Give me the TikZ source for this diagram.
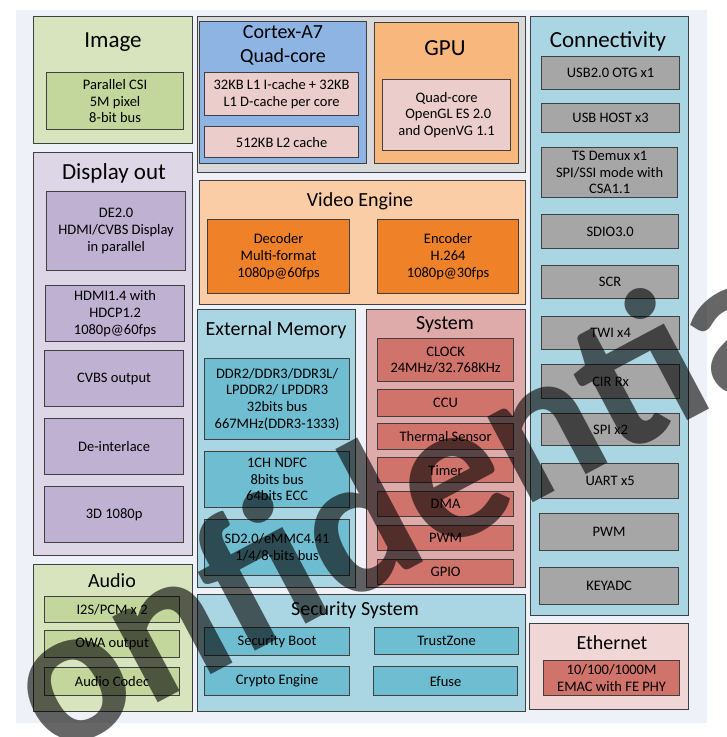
\documentclass[tikz,border=0pt]{standalone}
\usepackage{fontspec}
\setmainfont{Carlito}
\usepackage{xcolor}
\usepackage{tikz}
\usetikzlibrary{positioning}
\definecolor{pagebg}{RGB}{238,241,247}
\definecolor{edge}{RGB}{64,64,64}
\definecolor{imgbg}{RGB}{215,228,189}
\definecolor{imgin}{RGB}{195,214,155}
\definecolor{dispbg}{RGB}{221,214,231}
\definecolor{dispin}{RGB}{191,177,210}
\definecolor{cpubg}{RGB}{217,217,217}
\definecolor{cpuc}{RGB}{141,180,226}
\definecolor{cachec}{RGB}{235,205,203}
\definecolor{gpuc}{RGB}{247,183,125}
\definecolor{vidbg}{RGB}{250,205,166}
\definecolor{vidin}{RGB}{239,130,40}
\definecolor{blubg}{RGB}{170,214,227}
\definecolor{bluin}{RGB}{110,189,208}
\definecolor{sysbg}{RGB}{222,170,170}
\definecolor{sysin}{RGB}{207,115,107}
\definecolor{gryin}{RGB}{166,166,166}
\definecolor{ethbg}{RGB}{240,215,214}
\newcommand{\bigttl}{\fontsize{23}{27}\selectfont}
\newcommand{\midttl}{\fontsize{20}{24}\selectfont}
\newcommand{\itemtxt}{\fontsize{14.5}{16.7}\selectfont}

\begin{document}
\begin{tikzpicture}[x=1pt, y=-1pt,
  sz/.style 2 args={minimum width=#1, minimum height=#2},
  grp/.style={draw=edge, line width=0.9pt, fill=#1, anchor=north west, inner sep=0pt},
  blk/.style={draw=edge, line width=1.2pt, fill=#1, anchor=north west, inner sep=1pt,
    align=center, font=\itemtxt},
  ttl/.style={anchor=base, font=\bigttl},
  mttl/.style={anchor=base, font=\midttl},
  wm/.style={text=black, opacity=0.6, font=\bfseries\fontsize{200}{200}\selectfont}]
\useasboundingbox (0,0) rectangle (727,737);
\fill[pagebg] (16,10) rectangle (707,723);

% image
\node[grp=imgbg, sz={159}{127}] (image) at (33,16) {};
\node[ttl] (imaget) at (113,47) {Image};
\node[blk=imgin, sz={137}{57}] (csi) at (46,72) {Parallel CSI\\5M pixel\\8-bit bus};

% cpu + gpu
\node[grp=cpubg, sz={328}{156}] (core) at (197,16) {};
\node[grp=cpuc, sz={167}{142}] (cpu) at (199,21) {};
\node[mttl] (cput) at (283,38) {Cortex-A7};
\node[mttl] (cput2) at (283,62) {Quad-core};
\node[blk=cachec, sz={154}{43}] (l1) at (204,72) {32KB L1 I-cache + 32KB\\L1 D-cache per core};
\node[blk=cachec, sz={154}{31}] (l2) at (204,126) {512KB L2 cache};
\node[grp=gpuc, sz={144}{141}] (gpu) at (374,22) {};
\node[ttl] (gput) at (445,55) {GPU};
\node[blk=cachec, sz={128}{71}] (gpuin) at (382,79) {Quad-core\\\ OpenGL ES 2.0\\and OpenVG 1.1};

% display out
\node[grp=dispbg, sz={159}{403}] (disp) at (33,152) {};
\node[ttl] (dispt) at (114,179) {Display out};
\node[blk=dispin, sz={139}{79}] (de) at (46,191) {DE2.0\\HDMI/CVBS Display\\in parallel};
\node[blk=dispin, sz={139}{56}] (hdmi) at (45,285) {HDMI1.4 with\\HDCP1.2\\1080p@60fps};
\node[blk=dispin, sz={139}{56}] (cvbs) at (44,350) {CVBS output};
\node[blk=dispin, sz={139}{56}] (deint) at (44,418) {De-interlace};
\node[blk=dispin, sz={139}{56}] (threed) at (44,486) {3D 1080p};

% audio
\node[grp=imgbg, sz={159}{147}] (audio) at (33,564) {};
\node[mttl] (audiot) at (112,587) {Audio};
\node[blk=imgin, sz={135}{26}] (i2s) at (44,596) {I2S/PCM x 2};
\node[blk=imgin, sz={135}{27}] (owa) at (44,630) {OWA output};
\node[blk=imgin, sz={135}{28}] (codec) at (44,667) {Audio Codec};

% video engine
\node[grp=vidbg, sz={326}{124}] (video) at (199,180) {};
\node[mttl] (videot) at (360,206) {Video Engine};
\node[blk=vidin, sz={142}{74}] (dec) at (207,219) {Decoder\\Multi-format\\1080p@60fps};
\node[blk=vidin, sz={141}{74}] (enc) at (377,219) {Encoder\\H.264\\1080p@30fps};

% external memory
\node[grp=blubg, sz={158}{278}] (extmem) at (197,309) {};
\node[mttl] (extmemt) at (276,335) {External Memory};
\node[blk=bluin, sz={145}{81}] (ddr) at (204,358) {DDR2/DDR3/DDR3L/\\LPDDR2/ LPDDR3\\32bits bus\\667MHz(DDR3-1333)};
\node[blk=bluin, sz={145}{56}] (ndfc) at (204,451) {1CH NDFC\\8bits bus\\64bits ECC};
\node[blk=bluin, sz={145}{56}] (sd) at (204,519) {SD2.0/eMMC4.41\\1/4/8-bits bus};

% system
\node[grp=sysbg, sz={159}{278}] (system) at (366,309) {};
\node[mttl] (systemt) at (445,329) {System};
\node[blk=sysin, sz={136}{43}] (clock) at (377,338) {CLOCK\\24MHz/32.768KHz};
\node[blk=sysin, sz={136}{27}] (ccu) at (377,389) {CCU};
\node[blk=sysin, sz={136}{26}] (therm) at (377,423) {Thermal Sensor};
\node[blk=sysin, sz={136}{25}] (timer) at (377,457) {Timer};
\node[blk=sysin, sz={136}{25}] (dma) at (377,491) {DMA};
\node[blk=sysin, sz={136}{25}] (spwm) at (377,525) {PWM};
\node[blk=sysin, sz={136}{25}] (gpio) at (377,559) {GPIO};

% security
\node[grp=blubg, sz={328}{117}] (sec) at (197,594) {};
\node[mttl] (sect) at (355,615) {Security System};
\node[blk=bluin, sz={145}{28}] (sboot) at (204,627) {Security Boot};
\node[blk=bluin, sz={145}{29}] (crypto) at (204,666) {Crypto Engine};
\node[blk=bluin, sz={144}{27}] (tz) at (374,627) {TrustZone};
\node[blk=bluin, sz={144}{29}] (efuse) at (373,666) {Efuse};

% connectivity
\node[grp=blubg, sz={158}{599}] (conn) at (530,16) {};
\node[ttl] (connt) at (608,47) {Connectivity};
\node[blk=gryin, sz={138}{33}] (otg) at (541,56) {USB2.0 OTG x1};
\node[blk=gryin, sz={138}{29}] (host) at (541,103) {USB HOST x3};
\node[blk=gryin, sz={136}{50}] (ts) at (541,147) {TS Demux x1\\SPI/SSI mode with\\CSA1.1};
\node[blk=gryin, sz={137}{34}] (sdio) at (541,214) {SDIO3.0};
\node[blk=gryin, sz={137}{33}] (scr) at (541,265) {SCR};
\node[blk=gryin, sz={138}{33}] (twi) at (541,316) {TWI x4};
\node[blk=gryin, sz={138}{34}] (cir) at (541,364) {CIR Rx};
\node[blk=gryin, sz={138}{32}] (spi) at (541,413) {SPI x2};
\node[blk=gryin, sz={137}{35}] (uart) at (541,463) {UART x5};
\node[blk=gryin, sz={139}{37}] (cpwm) at (539,513) {PWM};
\node[blk=gryin, sz={139}{37}] (keyadc) at (539,567) {KEYADC};

% ethernet
\node[grp=ethbg, sz={159}{86}] (eth) at (529,623) {};
\node[mttl] (etht) at (612,649) {Ethernet};
\node[blk=sysin, sz={136}{35}] (emac) at (543,660) {10/100/1000M\\EMAC with FE PHY};

% watermark
\begin{scope}
\clip (0,0) rectangle (727,737);
\node[wm, rotate=28, anchor=base west] (wmark) at (-44,810) {Confidential};
\end{scope}
\end{tikzpicture}
\end{document}
